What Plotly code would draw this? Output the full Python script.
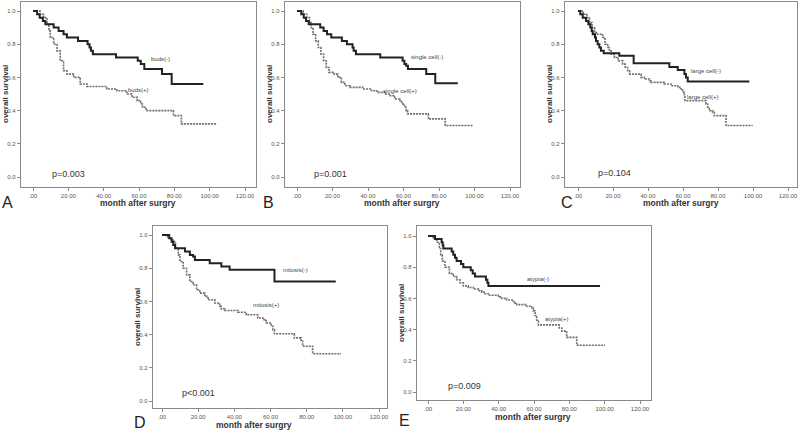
import plotly.graph_objects as go

W, H = 800, 430

# ---------------- data (Kaplan-Meier step points: time in months, survival) ----------------
buds_neg_t = [0, 2.3, 3.8, 5.6, 7.0, 11.7, 14.5, 17.3, 19.2, 25.5, 30.9, 32.0, 32.8, 33.9, 47.0, 59.3, 61.0, 63.0, 73.0, 78.5, 96.4]
buds_neg_s = [1.0, 0.98, 0.96, 0.94, 0.92, 0.90, 0.88, 0.86, 0.84, 0.82, 0.80, 0.78, 0.76, 0.74, 0.72, 0.70, 0.68, 0.65, 0.62, 0.56, 0.56]
buds_pos_t = [0, 4.0, 6.0, 7.9, 9.0, 9.8, 11.7, 13.6, 15.4, 17.3, 19.2, 23.0, 26.7, 30.5, 41.8, 47.5, 53.0, 56.0, 59.0, 61.0, 62.0, 64.0, 79.5, 84.0, 104.0]
buds_pos_s = [1.0, 0.98, 0.96, 0.92, 0.88, 0.84, 0.80, 0.76, 0.70, 0.64, 0.62, 0.60, 0.56, 0.545, 0.53, 0.52, 0.50, 0.48, 0.46, 0.44, 0.42, 0.40, 0.37, 0.32, 0.32]

single_neg_t = [0, 2.4, 3.8, 5.1, 6.6, 13.1, 15.0, 16.9, 19.3, 25.3, 28.1, 31.3, 31.9, 33.2, 46.9, 59.5, 60.5, 61.5, 62.5, 72.8, 77.9, 90.6]
single_neg_s = [1.0, 0.98, 0.96, 0.94, 0.92, 0.90, 0.88, 0.86, 0.84, 0.82, 0.80, 0.78, 0.76, 0.74, 0.72, 0.70, 0.68, 0.67, 0.65, 0.62, 0.565, 0.565]
single_pos_t = [0, 3.5, 5.5, 7.0, 8.0, 9.0, 10.5, 12.0, 13.5, 15.0, 16.5, 18.0, 21.0, 23.0, 25.0, 27.0, 30.0, 37.0, 42.0, 45.0, 50.0, 52.5, 55.0, 58.0, 59.0, 60.5, 61.5, 62.3, 74.0, 83.5, 99.4]
single_pos_s = [1.0, 0.98, 0.96, 0.93, 0.90, 0.86, 0.82, 0.78, 0.74, 0.70, 0.66, 0.63, 0.62, 0.60, 0.57, 0.55, 0.54, 0.53, 0.52, 0.51, 0.50, 0.49, 0.47, 0.46, 0.44, 0.42, 0.40, 0.38, 0.35, 0.31, 0.31]

large_neg_t = [0, 1.3, 2.7, 4.6, 5.9, 7.0, 7.8, 8.4, 9.7, 10.3, 11.2, 12.2, 13.1, 14.7, 23.6, 31.8, 52.2, 57.0, 60.8, 61.7, 62.7, 97.9]
large_neg_s = [1.0, 0.98, 0.96, 0.94, 0.92, 0.90, 0.88, 0.86, 0.84, 0.82, 0.80, 0.78, 0.76, 0.745, 0.73, 0.685, 0.663, 0.645, 0.62, 0.60, 0.575, 0.575]
large_pos_t = [0, 3.0, 5.0, 6.5, 8.0, 9.5, 10.5, 14.1, 15.4, 17.0, 17.9, 18.9, 20.8, 23.0, 25.5, 27.0, 28.4, 29.5, 36.0, 37.9, 40.8, 41.7, 49.3, 53.1, 57.0, 58.9, 59.8, 60.8, 61.1, 73.1, 74.1, 75.0, 76.9, 77.9, 84.6, 99.8]
large_pos_s = [1.0, 0.98, 0.96, 0.93, 0.90, 0.87, 0.86, 0.84, 0.80, 0.78, 0.76, 0.74, 0.72, 0.70, 0.68, 0.66, 0.64, 0.62, 0.60, 0.59, 0.58, 0.57, 0.56, 0.55, 0.54, 0.53, 0.51, 0.49, 0.46, 0.44, 0.42, 0.40, 0.39, 0.37, 0.31, 0.31]

mitosis_neg_t = [0, 4.0, 5.3, 6.2, 7.2, 12.7, 15.4, 17.2, 18.2, 26.4, 32.8, 37.4, 62.2, 96.1]
mitosis_neg_s = [1.0, 0.98, 0.96, 0.94, 0.92, 0.90, 0.88, 0.87, 0.85, 0.83, 0.81, 0.79, 0.72, 0.72]
mitosis_pos_t = [0, 3.0, 5.0, 6.2, 7.5, 9.0, 9.9, 11.7, 13.6, 15.4, 17.2, 19.1, 20.9, 23.7, 25.5, 29.2, 31.9, 32.8, 34.7, 42.0, 46.6, 53.0, 55.8, 57.6, 60.4, 61.3, 62.2, 73.2, 76.9, 77.8, 83.3, 99.0]
mitosis_pos_s = [1.0, 0.98, 0.97, 0.96, 0.92, 0.88, 0.84, 0.80, 0.76, 0.72, 0.70, 0.67, 0.65, 0.63, 0.61, 0.59, 0.57, 0.555, 0.545, 0.535, 0.52, 0.50, 0.49, 0.47, 0.45, 0.43, 0.405, 0.38, 0.36, 0.33, 0.285, 0.285]

atypia_neg_t = [0, 4.0, 7.7, 8.3, 8.7, 13.4, 14.3, 15.3, 16.2, 18.7, 20.0, 24.2, 25.3, 26.6, 32.8, 33.6, 34.2, 97.4]
atypia_neg_s = [1.0, 0.98, 0.96, 0.94, 0.92, 0.90, 0.88, 0.86, 0.84, 0.82, 0.80, 0.78, 0.76, 0.74, 0.72, 0.70, 0.68, 0.68]
atypia_pos_t = [0, 3.0, 4.9, 6.4, 7.2, 8.1, 9.6, 12.1, 14.3, 16.2, 18.1, 20.0, 22.8, 25.7, 28.5, 30.4, 32.3, 34.2, 39.8, 41.7, 44.5, 48.3, 49.2, 50.2, 55.8, 58.7, 59.6, 60.6, 61.5, 62.5, 74.3, 75.7, 78.5, 84.2, 100.2]
atypia_pos_s = [1.0, 0.98, 0.96, 0.92, 0.88, 0.84, 0.80, 0.76, 0.74, 0.72, 0.70, 0.68, 0.67, 0.66, 0.65, 0.64, 0.63, 0.62, 0.61, 0.60, 0.59, 0.58, 0.57, 0.56, 0.55, 0.54, 0.52, 0.49, 0.46, 0.43, 0.41, 0.39, 0.35, 0.30, 0.30]

panel_letters = ["A", "B", "C", "D", "E"]
neg_labels = ["buds(-)", "single cell(-)", "large cell(-)", "mitosis(-)", "atypia(-)"]
pos_labels = ["buds(+)", "single cell(+)", "large cell(+)", "mitosis(+)", "atypia(+)"]
p_values = ["p=0.003", "p=0.001", "p=0.104", "p<0.001", "p=0.009"]

x_tickvals = [0, 20, 40, 60, 80, 100, 120]
x_ticktext = [".00", "20.00", "40.00", "60.00", "80.00", "100.00", "120.00"]
y_tickvals = [0, 0.2, 0.4, 0.6, 0.8, 1.0]
y_ticktext = ["0.0", "0.2", "0.4", "0.6", "0.8", "1.0"]
x_title = "month after surgry"
y_title = "overall survival"

series = [
    (buds_neg_t, buds_neg_s, buds_pos_t, buds_pos_s),
    (single_neg_t, single_neg_s, single_pos_t, single_pos_s),
    (large_neg_t, large_neg_s, large_pos_t, large_pos_s),
    (mitosis_neg_t, mitosis_neg_s, mitosis_pos_t, mitosis_pos_s),
    (atypia_neg_t, atypia_neg_s, atypia_pos_t, atypia_pos_s),
]

# label positions in data coords (month, survival)
neg_label_pos = [(72, 0.713), (73.4, 0.72), (73.1, 0.637), (73.6, 0.79), (62.5, 0.725)]
pos_label_pos = [(59.5, 0.523), (58, 0.52), (71.4, 0.483), (57.6, 0.577), (72.8, 0.47)]
p_pos = [(20.2, 0.02), (18.8, 0.018), (20.8, 0.022), (20.0, 0.046), (20.4, 0.038)]

# ---------------- layout geometry (pixels) ----------------
# frame L, R, T, B ; x px of month 0 & 120 ; y px of surv 1.0 & 0.0
geom = [
    (21, 256, 2, 187, 33, 245, 11, 177),
    (285, 520, 2, 187, 297, 510, 11, 177),
    (565, 797, 2, 187, 578, 788, 11, 177),
    (153, 387, 226, 408, 162, 379, 235, 401),
    (417, 651, 226, 400, 428, 640, 236, 392),
]
xtitle_pos = [(138, 203), (402, 203), (681, 203), (254, 424.5), (533, 417)]
ytitle_pos = [(5, 94), (269, 94), (549, 94), (137, 317), (401, 313)]
letter_pos = [(7, 202), (268, 202), (567, 202), (140, 422), (404, 420)]

fig = go.Figure()
layout = dict(
    width=W, height=H, margin=dict(l=0, r=0, t=0, b=0, autoexpand=False),
    paper_bgcolor="white", plot_bgcolor="white", showlegend=False,
    font=dict(family="Liberation Sans, Arial, sans-serif", color="#333"),
)
annotations = []
frame_col = "#8a8a8a"


def paper_text(px, py, text, size, angle=0, color="#333"):
    return dict(x=px / W, y=1 - py / H, xref="paper", yref="paper", xanchor="center", yanchor="middle",
                text=text, showarrow=False, textangle=angle, font=dict(size=size, color=color))


for i in range(5):
    L, R, T, B, x0, x120, y1, y0 = geom[i]
    sx = (x120 - x0) / 120.0
    sy = (y0 - y1) / 1.0
    xr = [(L - x0) / sx, (R - x0) / sx]
    yr = [(y0 - B) / sy, (y0 - T) / sy]
    xa = "xaxis" if i == 0 else f"xaxis{i+1}"
    ya = "yaxis" if i == 0 else f"yaxis{i+1}"
    xref = "x" if i == 0 else f"x{i+1}"
    yref = "y" if i == 0 else f"y{i+1}"
    layout[xa] = dict(
        domain=[L / W, R / W], range=xr, anchor=yref, automargin=False,
        tickvals=x_tickvals, ticktext=x_ticktext, ticks="outside", ticklen=3,
        tickcolor=frame_col, showline=True, mirror=True, linecolor=frame_col, linewidth=1.2,
        showgrid=False, zeroline=False, tickfont=dict(size=6, color="#555"),
    )
    layout[ya] = dict(
        domain=[1 - B / H, 1 - T / H], range=yr, anchor=xref, automargin=False,
        tickvals=y_tickvals, ticktext=y_ticktext, ticks="outside", ticklen=3,
        tickcolor=frame_col, showline=True, mirror=True, linecolor=frame_col, linewidth=1.2,
        showgrid=False, zeroline=False, tickfont=dict(size=6, color="#555"),
    )
    nt, ns, pt, ps = series[i]
    fig.add_trace(go.Scatter(x=pt, y=ps, mode="lines", line=dict(color="#6e6e6e", width=1.6, dash="2px,1px", shape="hv"),
                             xaxis=xref, yaxis=yref, hoverinfo="skip"))
    fig.add_trace(go.Scatter(x=nt, y=ns, mode="lines", line=dict(color="#222222", width=2, shape="hv"),
                             xaxis=xref, yaxis=yref, hoverinfo="skip"))
    annotations.append(dict(x=neg_label_pos[i][0], y=neg_label_pos[i][1], xref=xref, yref=yref,
                            xanchor="center", yanchor="middle",
                            text=neg_labels[i], showarrow=False, font=dict(size=6, color="#444")))
    annotations.append(dict(x=pos_label_pos[i][0], y=pos_label_pos[i][1], xref=xref, yref=yref,
                            xanchor="center", yanchor="middle",
                            text=pos_labels[i], showarrow=False, font=dict(size=6, color="#444")))
    annotations.append(dict(x=p_pos[i][0], y=p_pos[i][1], xref=xref, yref=yref,
                            xanchor="center", yanchor="middle",
                            text=p_values[i], showarrow=False, font=dict(size=9, color="#333")))
    annotations.append(paper_text(*xtitle_pos[i], f"<b>{x_title}</b>", 8.5))
    annotations.append(paper_text(*ytitle_pos[i], f"<b>{y_title}</b>", 8, angle=-90))
    annotations.append(paper_text(*letter_pos[i], panel_letters[i], 16, color="#222"))

layout["annotations"] = annotations
fig.update_layout(**layout)
fig.write_html(
    "out.html",
    config={"displayModeBar": False, "staticPlot": True},
    post_script="document.body.style.margin='0';document.body.style.padding='0';document.body.style.overflow='hidden';",
)
